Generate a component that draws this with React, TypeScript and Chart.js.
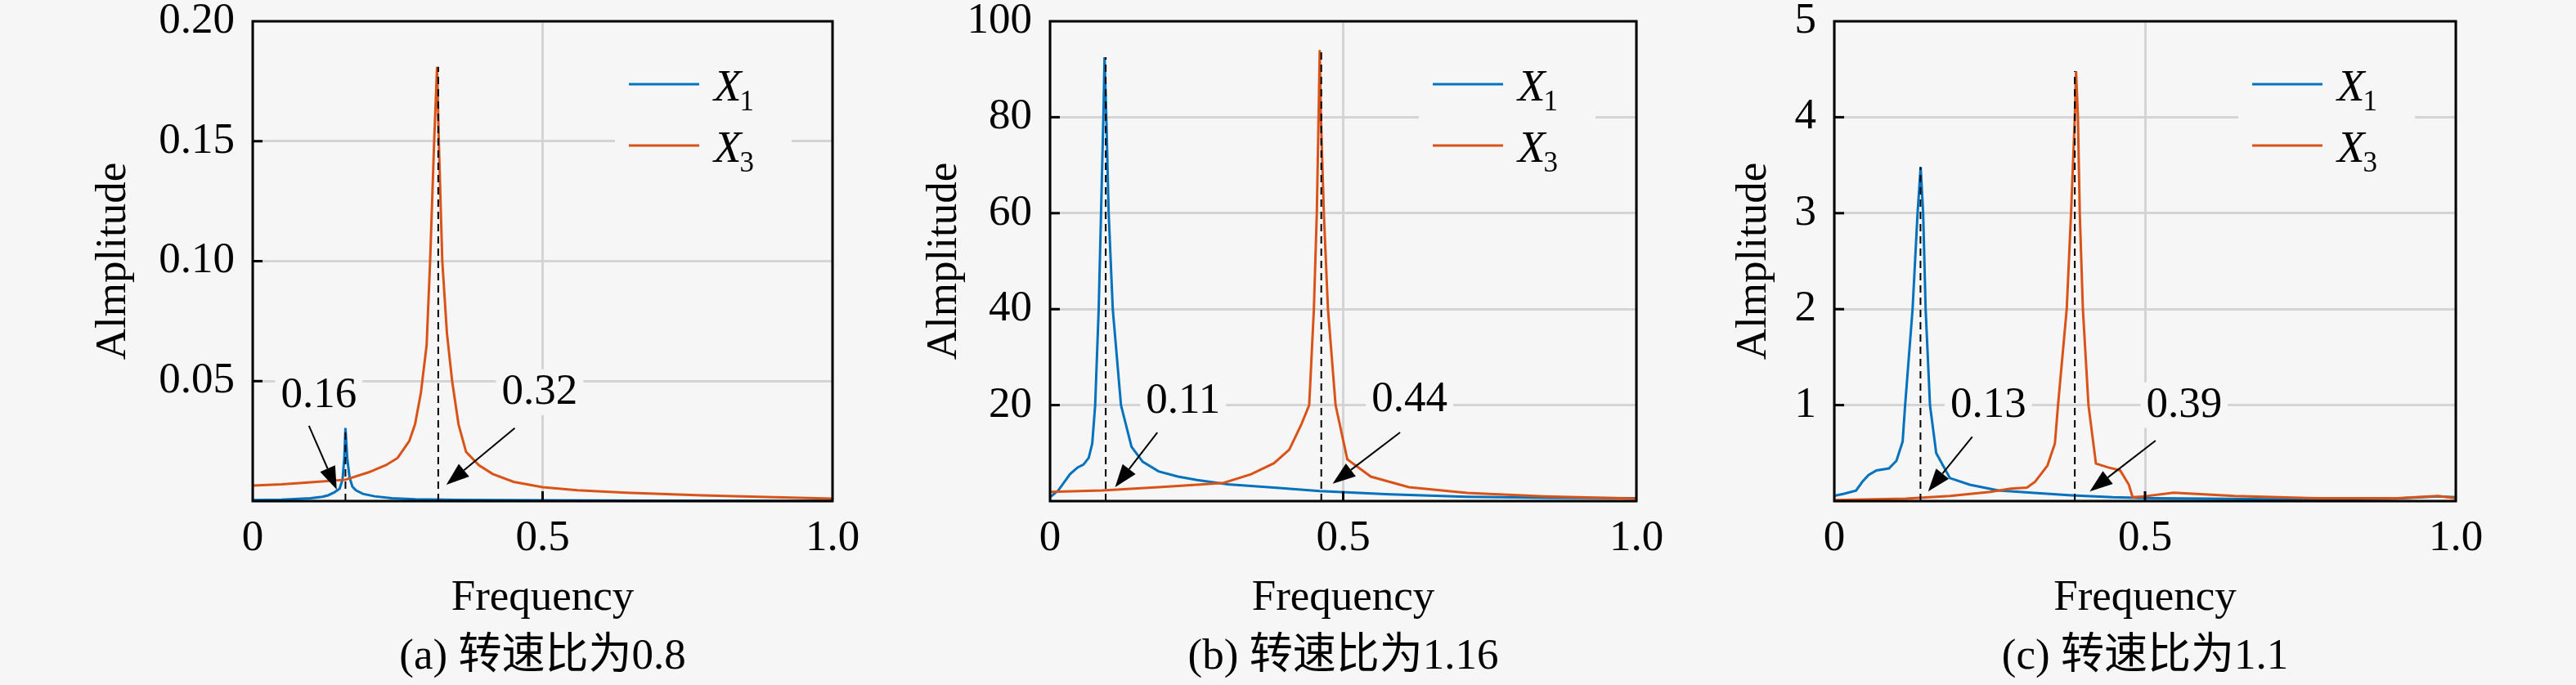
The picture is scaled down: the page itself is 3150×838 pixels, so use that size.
import React, { useEffect, useRef } from 'react';
import { Chart, registerables } from 'chart.js';

Chart.register(...registerables);

// ---- data ----
// (a) speed ratio 0.8
const freqA1 = [0, 0.05, 0.1, 0.12, 0.13, 0.14, 0.15, 0.155, 0.158, 0.16, 0.163, 0.167, 0.172, 0.178, 0.19, 0.21, 0.24, 0.28, 0.35, 0.5, 0.7, 1.0];
const ampA1 = [0.0004, 0.0006, 0.0012, 0.0018, 0.0024, 0.0035, 0.0052, 0.009, 0.018, 0.0305, 0.018, 0.01, 0.006, 0.0045, 0.003, 0.002, 0.0012, 0.0008, 0.0005, 0.0003, 0.0002, 0.0001];
const freqA3 = [0, 0.05, 0.1, 0.16, 0.2, 0.23, 0.25, 0.27, 0.28, 0.29, 0.3, 0.306, 0.313, 0.318, 0.321, 0.327, 0.335, 0.344, 0.355, 0.368, 0.39, 0.414, 0.45, 0.5, 0.56, 0.644, 0.775, 0.9, 1.0];
const ampA3 = [0.0065, 0.007, 0.0078, 0.0089, 0.012, 0.015, 0.018, 0.025, 0.032, 0.045, 0.065, 0.1, 0.15, 0.181, 0.15, 0.1, 0.07, 0.05, 0.032, 0.0205, 0.015, 0.0113, 0.008, 0.0058, 0.0045, 0.0035, 0.0024, 0.0016, 0.001];
const markA = [0.16, 0.32];
const markTopA = [0.0305, 0.181];
const labelA = ['0.16', '0.32'];
const labelPosA = [[0.114, 0.044], [0.495, 0.0454]];
const arrowA = [[0.097, 0.0314, 0.145, 0.0048], [0.452, 0.0304, 0.334, 0.0068]];

// (b) speed ratio 1.16
const freqB1 = [0, 0.014, 0.034, 0.047, 0.057, 0.066, 0.072, 0.077, 0.083, 0.087, 0.091, 0.093, 0.096, 0.1, 0.107, 0.121, 0.139, 0.158, 0.185, 0.218, 0.251, 0.303, 0.382, 0.46, 0.58, 0.711, 0.85, 1.0];
const ampB1 = [0.8, 2.2, 5.6, 7.0, 7.6, 9.0, 12, 20, 40, 60, 80, 92.5, 80, 60, 40, 20, 11.3, 8.2, 6.2, 5.1, 4.4, 3.5, 2.8, 2.1, 1.4, 0.9, 0.7, 0.6];
const freqB3 = [0, 0.089, 0.185, 0.251, 0.296, 0.343, 0.382, 0.408, 0.428, 0.442, 0.45, 0.455, 0.458, 0.46, 0.462, 0.467, 0.474, 0.487, 0.507, 0.547, 0.612, 0.711, 0.843, 1.0];
const ampB3 = [1.9, 2.2, 2.9, 3.4, 3.8, 5.6, 7.9, 10.7, 15.8, 20, 40, 60, 80, 94, 80, 60, 40, 20, 8.7, 5.1, 2.9, 1.7, 1.0, 0.5];
const markB = [0.095, 0.4626];
const markTopB = [92.5, 94];
const labelB = ['0.11', '0.44'];
const labelPosB = [[0.227, 20.7], [0.613, 21.1]];
const arrowB = [[0.183, 14.3, 0.111, 2.9], [0.597, 14.3, 0.482, 3.6]];

// (c) speed ratio 1.1
const freqC1 = [0, 0.016, 0.035, 0.045, 0.055, 0.068, 0.088, 0.1, 0.11, 0.114, 0.126, 0.134, 0.139, 0.143, 0.147, 0.154, 0.164, 0.186, 0.218, 0.264, 0.317, 0.382, 0.448, 0.513, 0.6, 0.7, 0.8, 0.9, 0.971, 1.0];
const ampC1 = [0.054, 0.077, 0.11, 0.2, 0.27, 0.32, 0.34, 0.42, 0.62, 1.0, 2.0, 3.0, 3.48, 3.0, 2.0, 1.0, 0.5, 0.24, 0.17, 0.11, 0.088, 0.06, 0.04, 0.03, 0.025, 0.02, 0.02, 0.025, 0.05, 0.04];
const freqC3 = [0, 0.115, 0.186, 0.251, 0.284, 0.31, 0.323, 0.343, 0.355, 0.36, 0.374, 0.381, 0.387, 0.389, 0.392, 0.395, 0.4, 0.409, 0.421, 0.441, 0.46, 0.474, 0.48, 0.5, 0.546, 0.644, 0.775, 0.906, 0.971, 1.0];
const ampC3 = [0.01, 0.026, 0.054, 0.096, 0.13, 0.14, 0.2, 0.37, 0.6, 1.0, 2.0, 3.0, 4.0, 4.48, 4.0, 3.0, 2.0, 1.0, 0.39, 0.35, 0.32, 0.17, 0.04, 0.05, 0.088, 0.054, 0.03, 0.03, 0.054, 0.03];
const markC = [0.1387, 0.387];
const markTopC = [3.48, 4.48];
const labelC = ['0.13', '0.39'];
const labelPosC = [[0.248, 1.0], [0.563, 1.0]];
const arrowC = [[0.222, 0.67, 0.151, 0.1], [0.517, 0.63, 0.411, 0.1]];

const seriesNames = ['X1', 'X3'];
const xTicks = [0, 0.5, 1.0];

// ---- look ----
const FONT = '"Liberation Serif", "Times New Roman", "Noto Sans CJK SC", serif';
const FS = 53;
const BG = '#f6f6f6';
const BLUE = '#0072BD';
const ORANGE = '#D95319';
const H = 838;
const PLOT_TOP = 26;
const PLOT_BOTTOM = 613;
const X_AXIS_H = 151;

const pts = (xs: number[], ys: number[]) => xs.map((x, i) => ({ x, y: ys[i] }));

const panels = [
  { caption: '(a) 转速比为0.8', yMax: 0.2, yStep: 0.05, digits: 2, s1: pts(freqA1, ampA1), s3: pts(freqA3, ampA3), mark: markA, markTop: markTopA, label: labelA, labelPos: labelPosA, arrow: arrowA, left: 79, yAxisW: 230, width: 984 },
  { caption: '(b) 转速比为1.16', yMax: 100, yStep: 20, digits: 0, s1: pts(freqB1, ampB1), s3: pts(freqB3, ampB3), mark: markB, markTop: markTopB, label: labelB, labelPos: labelPosB, arrow: arrowB, left: 1095, yAxisW: 189, width: 951 },
  { caption: '(c) 转速比为1.1', yMax: 5, yStep: 1, digits: 0, s1: pts(freqC1, ampC1), s3: pts(freqC3, ampC3), mark: markC, markTop: markTopC, label: labelC, labelPos: labelPosC, arrow: arrowC, left: 2085, yAxisW: 158, width: 963 },
];

function drawArrow(ctx: CanvasRenderingContext2D, x0: number, y0: number, x1: number, y1: number) {
  const a = Math.atan2(y1 - y0, x1 - x0);
  const head = 28, half = 10;
  const bx = x1 - head * Math.cos(a), by = y1 - head * Math.sin(a);
  ctx.beginPath();
  ctx.lineWidth = 2;
  ctx.moveTo(x0, y0);
  ctx.lineTo(bx, by);
  ctx.stroke();
  ctx.beginPath();
  ctx.moveTo(x1, y1);
  ctx.lineTo(bx + half * Math.sin(a), by - half * Math.cos(a));
  ctx.lineTo(bx - half * Math.sin(a), by + half * Math.cos(a));
  ctx.closePath();
  ctx.fill();
}

const decorations = {
  id: 'decorations',
  beforeDatasetsDraw(chart: any) {
    const p = chart.options.plugins.decorations;
    const { ctx, scales: { x, y } } = chart;
    ctx.save();
    ctx.font = `${FS}px ${FONT}`;
    ctx.fillStyle = BG;
    p.labelPos.forEach((lp: number[], i: number) => {
      const w = ctx.measureText(p.label[i]).width + 14;
      const cx = x.getPixelForValue(lp[0]);
      const cy = y.getPixelForValue(lp[1]);
      ctx.fillRect(cx - w / 2, cy - 28, w, 56);
    });
    ctx.restore();
  },
  afterDatasetsDraw(chart: any) {
    const p = chart.options.plugins.decorations;
    const { ctx, chartArea: a, scales: { x, y } } = chart;
    ctx.save();
    ctx.strokeStyle = '#000';
    ctx.fillStyle = '#000';

    // dashed peak markers
    ctx.setLineDash([9, 6]);
    ctx.lineWidth = 2;
    p.mark.forEach((m: number, i: number) => {
      const px = x.getPixelForValue(m);
      ctx.beginPath();
      ctx.moveTo(px, y.getPixelForValue(0));
      ctx.lineTo(px, y.getPixelForValue(p.markTop[i]));
      ctx.stroke();
    });
    ctx.setLineDash([]);

    // arrows
    p.arrow.forEach((ar: number[]) => {
      drawArrow(ctx, x.getPixelForValue(ar[0]), y.getPixelForValue(ar[1]), x.getPixelForValue(ar[2]), y.getPixelForValue(ar[3]));
    });

    // labels
    ctx.font = `${FS}px ${FONT}`;
    ctx.textAlign = 'center';
    ctx.textBaseline = 'middle';
    p.labelPos.forEach((lp: number[], i: number) => {
      ctx.fillText(p.label[i], x.getPixelForValue(lp[0]), y.getPixelForValue(lp[1]));
    });

    // legend
    ctx.fillStyle = BG;
    ctx.fillRect(a.right - 266, a.top + 28, 216, 170);
    chart.data.datasets.forEach((ds: any, i: number) => {
      const ly = a.top + 77 + 75 * i;
      ctx.strokeStyle = ds.borderColor;
      ctx.lineWidth = 3;
      ctx.beginPath();
      ctx.moveTo(a.right - 249, ly);
      ctx.lineTo(a.right - 163, ly);
      ctx.stroke();
      const tx = a.right - 145;
      ctx.fillStyle = '#000';
      ctx.textAlign = 'left';
      ctx.textBaseline = 'alphabetic';
      ctx.font = `italic ${FS + 2}px ${FONT}`;
      const main = ds.label.charAt(0);
      ctx.fillText(main, tx, ly + 20);
      const w = ctx.measureText(main).width;
      ctx.font = `${Math.round(FS * 0.66)}px ${FONT}`;
      ctx.fillText(ds.label.slice(1), tx + w - 2, ly + 32);
    });

    // frame and inward ticks
    ctx.strokeStyle = '#000';
    ctx.lineWidth = 3;
    ctx.strokeRect(a.left, a.top, a.right - a.left, a.bottom - a.top);
    y.ticks.forEach((t: any) => {
      if (t.value <= y.min || t.value >= y.max) return;
      const py = y.getPixelForValue(t.value);
      ctx.beginPath();
      ctx.moveTo(a.left, py);
      ctx.lineTo(a.left + 12, py);
      ctx.stroke();
    });
    x.ticks.forEach((t: any) => {
      if (t.value <= x.min || t.value >= x.max) return;
      const px = x.getPixelForValue(t.value);
      ctx.beginPath();
      ctx.moveTo(px, a.bottom);
      ctx.lineTo(px, a.bottom - 12);
      ctx.stroke();
    });
    ctx.restore();
  },
  afterDraw(chart: any) {
    const p = chart.options.plugins.decorations;
    const { ctx, chartArea: a } = chart;
    ctx.save();
    ctx.fillStyle = '#000';
    ctx.font = `${FS}px ${FONT}`;
    ctx.textAlign = 'center';
    ctx.textBaseline = 'middle';
    ctx.fillText(p.caption, (a.left + a.right) / 2, 804);
    ctx.restore();
  },
};

function Panel({ cfg }: { cfg: any }) {
  const canvasRef = useRef<HTMLCanvasElement | null>(null);

  useEffect(() => {
    const ctx = canvasRef.current?.getContext('2d');
    if (!ctx) return;
    const font = { family: FONT, size: FS, lineHeight: 1.2 };
    const chart = new Chart(ctx, {
      type: 'line',
      data: {
        datasets: [
          { label: seriesNames[0], data: cfg.s1, borderColor: BLUE, borderWidth: 3, pointRadius: 0, tension: 0, order: 1 },
          { label: seriesNames[1], data: cfg.s3, borderColor: ORANGE, borderWidth: 3, pointRadius: 0, tension: 0, order: 0 },
        ],
      },
      options: {
        responsive: false,
        animation: false,
        events: [],
        layout: { padding: { top: PLOT_TOP, bottom: H - PLOT_BOTTOM - X_AXIS_H, left: 0, right: 45 } },
        plugins: {
          legend: { display: false },
          tooltip: { enabled: false },
          decorations: cfg,
        } as any,
        scales: {
          x: {
            type: 'linear',
            min: 0,
            max: 1,
            afterBuildTicks: (s: any) => { s.ticks = xTicks.map((v) => ({ value: v })); },
            afterFit: (s: any) => { s.height = X_AXIS_H; s.paddingLeft = 0; s.paddingRight = 0; },
            ticks: { font, color: '#000', padding: 14, maxRotation: 0, callback: (v: any) => (v === 0 ? '0' : Number(v).toFixed(1)) },
            grid: { color: '#d4d4d4', lineWidth: 3, drawTicks: false },
            border: { display: false },
            title: { display: true, text: 'Frequency', font, color: '#000', padding: { top: 0, bottom: 0 } },
          },
          y: {
            type: 'linear',
            min: 0,
            max: cfg.yMax,
            afterFit: (s: any) => { s.width = cfg.yAxisW; s.paddingTop = 0; s.paddingBottom = 0; },
            ticks: { font, color: '#000', padding: 22, stepSize: cfg.yStep, callback: (v: any) => (v === 0 ? '' : Number(v).toFixed(cfg.digits)) },
            grid: { color: '#d4d4d4', lineWidth: 3, drawTicks: false },
            border: { display: false },
            title: { display: true, text: 'Almplitude', font, color: '#000', padding: { top: 28, bottom: 0 } },
          },
        },
      },
      plugins: [decorations],
    } as any);
    return () => chart.destroy();
  }, [cfg]);

  return (
    <canvas
      ref={canvasRef}
      width={cfg.width}
      height={H}
      style={{ position: 'absolute', left: cfg.left, top: 0, width: cfg.width, height: H }}
    />
  );
}

export default function App() {
  return (
    <div style={{ position: 'absolute', left: 0, top: 0, width: 3150, height: H, background: BG, overflow: 'hidden' }}>
      {panels.map((p, i) => (
        <Panel key={i} cfg={p} />
      ))}
    </div>
  );
}
